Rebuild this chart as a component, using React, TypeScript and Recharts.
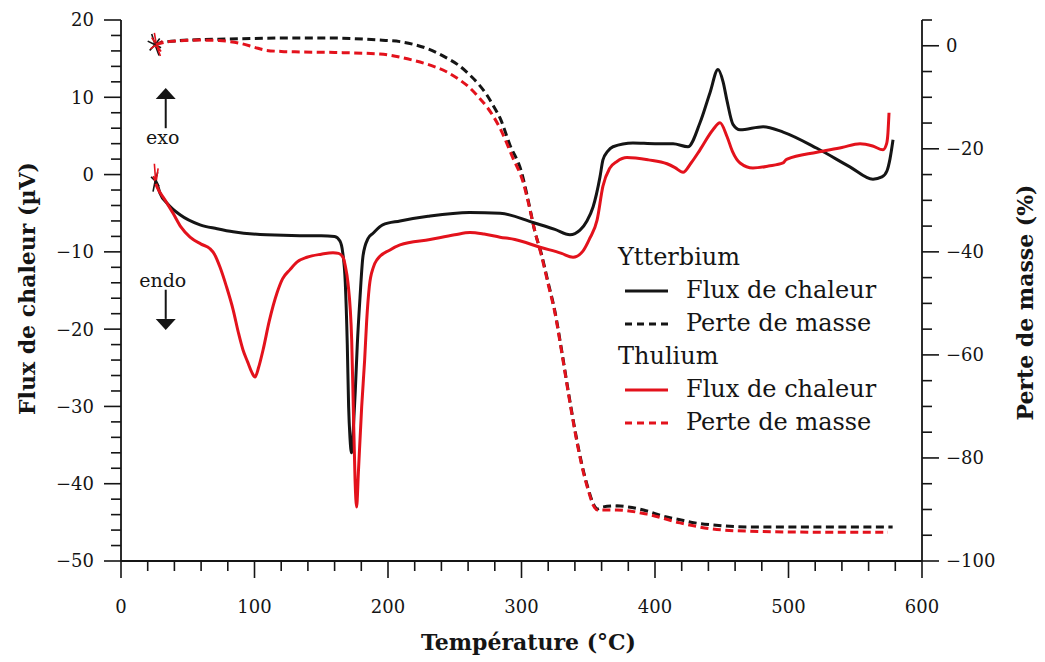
import React from 'react';
import { ComposedChart, Line, XAxis, YAxis, Legend, ReferenceLine } from 'recharts';

const FONT = '"DejaVu Serif", serif';
const BLACK = '#151515';
const RED = '#e3121c';

// Temperature (°C) / heat flux (µV) — Ytterbium
const ybFluxT = [25.6, 27, 29.2, 35, 44.2, 59.2, 72, 84, 109, 134, 150, 160, 164, 166, 168, 169.5, 170.5, 171.5, 172.7, 174, 175.5, 177, 179, 181.3, 185, 188.8, 196, 209, 230, 261, 284, 308.6, 325, 336.3, 343.8, 349, 353.6, 358.8, 361, 364.5, 368.5, 383.5, 400, 413.5, 424.7, 433.7, 441.2, 447.2, 451, 454, 458.4, 463.7, 481, 496, 521.3, 546, 563.3, 570, 573.8, 576, 578.3];
const ybFluxV = [-0.8, -1.2, -2.4, -3.8, -5.2, -6.5, -7.0, -7.4, -7.8, -7.9, -7.9, -8.0, -8.6, -10, -14, -22, -30, -34, -36, -33, -28, -22, -16, -10.5, -8.3, -7.6, -6.5, -6.0, -5.4, -4.9, -5.0, -6.2, -7.1, -7.8, -7.2, -6.0, -4.2, -0.3, 1.9, 3.0, 3.6, 4.1, 4.0, 4.0, 3.6, 6.7, 10.6, 13.6, 12.0, 9.5, 6.5, 5.8, 6.2, 5.5, 3.4, 1.0, -0.6, -0.3, 0.5, 2.0, 4.5];

// Temperature (°C) / heat flux (µV) — Thulium
const tmFluxT = [26.1, 27, 33, 39, 45, 51.7, 60, 66.7, 70, 74.2, 79, 84, 88, 91.4, 95, 98, 100.4, 103, 106.4, 111, 116.9, 121, 126.6, 132, 139.3, 150, 158.8, 163, 166.3, 168, 170, 172.8, 174, 175.3, 176.5, 177.8, 180.3, 182.5, 184, 186, 189, 191.8, 201.5, 209, 231.5, 250, 261.4, 272, 283.9, 295, 313.9, 330, 338.6, 346, 351, 356.6, 361, 366, 371.5, 379, 395, 409, 415, 421, 427, 433.7, 443.4, 448.7, 454, 458, 463.7, 473.4, 485, 495.9, 498, 499, 521.3, 540, 553.6, 563, 570.8, 573.5, 574.5, 575.3];
const tmFluxV = [-1.2, -1.6, -3.3, -5.0, -6.8, -8.1, -9.0, -9.6, -10.3, -12, -14.5, -17.5, -20.5, -22.7, -24.3, -25.6, -26.2, -25, -22.7, -19, -15.3, -13.5, -12.3, -11.3, -10.7, -10.3, -10.1, -10.2, -10.7, -11.8, -14, -21.4, -30, -39.4, -43, -38.6, -30, -24, -19, -14.5, -12, -11, -9.75, -9.1, -8.4, -7.8, -7.5, -7.7, -8.1, -8.4, -9.4, -10.2, -10.7, -9.9, -8.3, -5.9, -1.5, 0.8, 1.7, 2.2, 1.9, 1.4, 0.9, 0.3, 1.5, 3.2, 5.8, 6.7, 4.9, 3.0, 1.5, 0.85, 1.1, 1.5, 1.9, 2.0, 2.9, 3.5, 4.0, 3.7, 3.2, 4.0, 5.4, 8.0];

// Temperature (°C) / mass loss (%) — Ytterbium
const ybMassT = [25.6, 27, 35, 44, 60, 79, 120, 156.6, 194, 209, 218.7, 230, 244.2, 253, 261.4, 268, 274.2, 279, 283.9, 291.4, 300, 305, 310, 315, 320, 325, 330, 335, 340, 345, 350, 354, 357, 361, 371.5, 380, 394, 405, 418.7, 430, 443.4, 469, 520, 578];
const ybMassV = [0.3, 0.4, 0.8, 1.0, 1.2, 1.3, 1.5, 1.5, 1.1, 0.8, 0.3, -0.6, -2.4, -3.8, -5.7, -7.5, -9.6, -11.7, -14.0, -19.3, -24.5, -30, -36, -40.5, -46, -51.5, -59, -67, -74.5, -81, -86, -89, -89.9, -89.5, -89.3, -89.5, -90.3, -91.2, -92.0, -92.6, -93.0, -93.4, -93.4, -93.4];

// Temperature (°C) / mass loss (%) — Thulium
const tmMassT = [26.1, 27, 40, 59, 73.4, 82, 90.6, 100, 109, 120, 134, 160, 194, 218.7, 232, 244.2, 253, 261.4, 268, 274.2, 283.9, 293.6, 301.1, 305, 310, 315, 320, 325, 330, 335, 340, 345, 350, 354, 357, 359, 371.5, 394, 418.7, 443.4, 469, 520, 574.5];
const tmMassV = [0.2, 0.3, 0.9, 1.1, 1.0, 0.8, 0.4, -0.3, -0.9, -1.1, -1.2, -1.3, -1.6, -2.8, -3.8, -5.1, -6.5, -8.2, -10, -11.9, -16.0, -21.8, -26.4, -30.3, -36, -40.8, -46.3, -51.8, -59.3, -67.3, -74.8, -81.3, -86.3, -89.3, -90.1, -90.1, -90.1, -90.9, -92.6, -93.8, -94.2, -94.4, -94.4];

// Noisy start-of-run bursts (temperature / value), drawn in order
const ybMassBurstT = [25.5, 20.0, 25.5, 30.0, 25.5, 23.0, 25.5, 28.5, 25.5, 21.5, 25.5, 29.0, 25.5];
const ybMassBurstV = [0.2, 0.9, 0.2, -0.4, 0.2, 2.3, 0.2, -1.9, 0.2, -0.9, 0.2, 1.4, 0.2];
const tmMassBurstT = [26.5, 22.0, 26.5, 31.0, 26.5, 25.0, 26.5, 29.5, 26.5, 23.0, 26.5, 30.0, 26.5];
const tmMassBurstV = [0.2, -0.6, 0.2, 1.0, 0.2, 2.5, 0.2, -2.0, 0.2, 1.6, 0.2, -1.1, 0.2];
const ybFluxBurstT = [25.6, 22.5, 25.6, 27.5, 25.6, 24.0, 25.6, 28.5, 25.6];
const ybFluxBurstV = [-0.8, -0.3, -0.8, 0.3, -0.8, -2.2, -0.8, -1.5, -0.8];
const tmFluxBurstT = [26.1, 25.0, 26.1, 27.8, 26.1, 24.2, 26.1, 28.6, 26.1];
const tmFluxBurstV = [-1.2, 1.4, -1.2, 0.8, -1.2, -0.2, -1.2, -2.3, -1.2];

const xTicks = Array.from({ length: 31 }, (_, i) => i * 20);
const leftTicks = Array.from({ length: 36 }, (_, i) => -50 + i * 2);
const rightTicks = Array.from({ length: 22 }, (_, i) => -100 + i * 5);

const zip = (t: number[], v: number[]) => t.map((x, i) => ({ t: x, v: v[i] }));
const ybFlux = zip(ybFluxT, ybFluxV);
const tmFlux = zip(tmFluxT, tmFluxV);
const ybMass = zip(ybMassT, ybMassV);
const tmMass = zip(tmMassT, tmMassV);
const ybMassBurst = zip(ybMassBurstT, ybMassBurstV);
const tmMassBurst = zip(tmMassBurstT, tmMassBurstV);
const ybFluxBurst = zip(ybFluxBurstT, ybFluxBurstV);
const tmFluxBurst = zip(tmFluxBurstT, tmFluxBurstV);

const fmt = (v: number) => (v < 0 ? '\u2212' + Math.abs(v) : String(v));
const MAJ = 17;
const MIN = 10;
const TICK_W = 1.6;
const LBL = 18;

const BottomTick = (p: any) => {
  const { x, y, payload } = p;
  const major = payload.value % 100 === 0;
  return (
    <g>
      <line x1={x} x2={x} y1={y} y2={y + (major ? MAJ : MIN)} stroke={BLACK} strokeWidth={TICK_W} />
      {major && (
        <text x={x} y={y + 52} textAnchor="middle" fontFamily={FONT} fontSize={LBL} fill={BLACK}>
          {fmt(payload.value)}
        </text>
      )}
    </g>
  );
};
const TopTick = (p: any) => {
  const { x, y, payload } = p;
  const major = payload.value % 100 === 0;
  return <line x1={x} x2={x} y1={y} y2={y + (major ? MAJ : MIN)} stroke={BLACK} strokeWidth={TICK_W} />;
};
const LeftTick = (p: any) => {
  const { x, y, payload } = p;
  const major = payload.value % 10 === 0;
  return (
    <g>
      <line x1={x} x2={x - (major ? MAJ : MIN)} y1={y} y2={y} stroke={BLACK} strokeWidth={TICK_W} />
      {major && (
        <text x={x - 27} y={y} dy="0.36em" textAnchor="end" fontFamily={FONT} fontSize={LBL} fill={BLACK}>
          {fmt(payload.value)}
        </text>
      )}
    </g>
  );
};
const RightTick = (p: any) => {
  const { x, y, payload } = p;
  const major = payload.value % 20 === 0;
  return (
    <g>
      <line x1={x} x2={x + (major ? MAJ : MIN)} y1={y} y2={y} stroke={BLACK} strokeWidth={TICK_W} />
      {major && (
        <text x={x + 24} y={y} dy="0.36em" textAnchor="start" fontFamily={FONT} fontSize={LBL} fill={BLACK}>
          {fmt(payload.value)}
        </text>
      )}
    </g>
  );
};

const Arrow = (p: any, dir: 'up' | 'down', label: string) => {
  const { x1, y1, x2, y2 } = p;
  const head = 11;
  const hw = 10;
  const sign = dir === 'up' ? 1 : -1;
  return (
    <g>
      <line x1={x1} y1={y1} x2={x2} y2={y2 + sign * head} stroke={BLACK} strokeWidth={2} />
      <polygon
        points={`${x2},${y2} ${x2 - hw},${y2 + sign * head} ${x2 + hw},${y2 + sign * head}`}
        fill={BLACK}
      />
      <text
        x={x1 - 3}
        y={dir === 'up' ? y1 + 16 : y1 - 3}
        textAnchor="middle"
        fontFamily={FONT}
        fontSize={19}
        fill={BLACK}
      >
        {label}
      </text>
    </g>
  );
};

const LegendSample = ({ color, dashed }: { color: string; dashed: boolean }) => (
  <svg width={43} height={8} style={{ display: 'block' }}>
    <line x1={0} x2={43} y1={4} y2={4} stroke={color} strokeWidth={3} strokeDasharray={dashed ? '7 5' : undefined} />
  </svg>
);

const LegendBlock = () => {
  const row: React.CSSProperties = { height: 33, display: 'flex', alignItems: 'center', whiteSpace: 'nowrap' };
  const txt: React.CSSProperties = { fontFamily: FONT, fontSize: 24, color: BLACK, lineHeight: '33px' };
  const item = (color: string, dashed: boolean, label: string) => (
    <div style={row}>
      <div style={{ width: 7 }} />
      <LegendSample color={color} dashed={dashed} />
      <div style={{ width: 18 }} />
      <span style={txt}>{label}</span>
    </div>
  );
  return (
    <div>
      <div style={row}><span style={txt}>Ytterbium</span></div>
      {item(BLACK, false, 'Flux de chaleur')}
      {item(BLACK, true, 'Perte de masse')}
      <div style={row}><span style={txt}>Thulium</span></div>
      {item(RED, false, 'Flux de chaleur')}
      {item(RED, true, 'Perte de masse')}
    </div>
  );
};

const lineCommon = { xAxisId: 'b', dot: false, isAnimationActive: false } as const;

export default function App() {
  return (
    <ComposedChart width={1030} height={650} margin={{ top: 12, right: 6, bottom: 7, left: 0 }}>
      <XAxis
        xAxisId="b"
        dataKey="t"
        type="number"
        domain={[0, 600]}
        ticks={xTicks}
        interval={0}
        allowDataOverflow
        height={90}
        tickSize={0}
        tickMargin={0}
        tickLine={false}
        axisLine={{ stroke: BLACK, strokeWidth: 1.8 }}
        tick={BottomTick}
        label={(lp: any) => {
          const vb = lp.viewBox;
          return (
            <text x={vb.x + vb.width / 2 + 7} y={vb.y + 89} textAnchor="middle" fontFamily={FONT} fontSize={22} fontWeight="bold" fill={BLACK}>
              Température (°C)
            </text>
          );
        }}
      />
      <XAxis
        xAxisId="t"
        orientation="top"
        type="number"
        domain={[0, 600]}
        ticks={xTicks}
        interval={0}
        height={0}
        tickSize={0}
        tickMargin={0}
        tickLine={false}
        axisLine={{ stroke: BLACK, strokeWidth: 1.8 }}
        tick={TopTick}
      />
      <YAxis
        yAxisId="left"
        type="number"
        domain={[-50, 20]}
        ticks={leftTicks}
        interval={0}
        allowDataOverflow
        width={113}
        tickSize={0}
        tickMargin={0}
        tickLine={false}
        axisLine={{ stroke: BLACK, strokeWidth: 1.8 }}
        tick={LeftTick}
        label={(lp: any) => {
          const vb = lp.viewBox;
          const cx = vb.x + 19;
          const cy = vb.y + vb.height / 2 - 2;
          return (
            <text x={cx} y={cy} transform={`rotate(-90 ${cx} ${cy})`} textAnchor="middle" dominantBaseline="central" fontFamily={FONT} fontSize={22} fontWeight="bold" fill={BLACK}>
              Flux de chaleur (µV)
            </text>
          );
        }}
      />
      <YAxis
        yAxisId="right"
        orientation="right"
        type="number"
        domain={[-100, 5]}
        ticks={rightTicks}
        interval={0}
        allowDataOverflow
        width={110}
        tickSize={0}
        tickMargin={0}
        tickLine={false}
        axisLine={{ stroke: BLACK, strokeWidth: 1.8 }}
        tick={RightTick}
        label={(lp: any) => {
          const vb = lp.viewBox;
          const cx = vb.x + 103;
          const cy = vb.y + vb.height / 2 + 12;
          return (
            <text x={cx} y={cy} transform={`rotate(-90 ${cx} ${cy})`} textAnchor="middle" dominantBaseline="central" fontFamily={FONT} fontSize={22} fontWeight="bold" fill={BLACK}>
              Perte de masse (%)
            </text>
          );
        }}
      />
      <ReferenceLine
        xAxisId="b"
        yAxisId="left"
        segment={[{ x: 33.5, y: 6.0 }, { x: 33.5, y: 11.2 }]}
        shape={(p: any) => Arrow(p, 'up', 'exo')}
      />
      <ReferenceLine
        xAxisId="b"
        yAxisId="left"
        segment={[{ x: 33.5, y: -14.9 }, { x: 33.5, y: -20.1 }]}
        shape={(p: any) => Arrow(p, 'down', 'endo')}
      />
      <Line {...lineCommon} data={ybMassBurst} dataKey="v" yAxisId="right" type="linear" stroke={BLACK} strokeWidth={1.6} />
      <Line {...lineCommon} data={ybFluxBurst} dataKey="v" yAxisId="left" type="linear" stroke={BLACK} strokeWidth={1.6} />
      <Line {...lineCommon} data={tmMassBurst} dataKey="v" yAxisId="right" type="linear" stroke={RED} strokeWidth={1.6} />
      <Line {...lineCommon} data={tmFluxBurst} dataKey="v" yAxisId="left" type="linear" stroke={RED} strokeWidth={1.6} />
      <Line {...lineCommon} data={ybMass} dataKey="v" yAxisId="right" type="monotone" stroke={BLACK} strokeWidth={3} strokeDasharray="8 4.5" />
      <Line {...lineCommon} data={tmMass} dataKey="v" yAxisId="right" type="monotone" stroke={RED} strokeWidth={3} strokeDasharray="8 4.5" />
      <Line {...lineCommon} data={ybFlux} dataKey="v" yAxisId="left" type="monotone" stroke={BLACK} strokeWidth={3} />
      <Line {...lineCommon} data={tmFlux} dataKey="v" yAxisId="left" type="monotone" stroke={RED} strokeWidth={3} />
      <Legend
        layout="vertical"
        align="center"
        verticalAlign="middle"
        wrapperStyle={{ position: 'absolute', left: 610, top: 233, width: 320, height: 200 }}
        content={() => <LegendBlock />}
      />
    </ComposedChart>
  );
}
